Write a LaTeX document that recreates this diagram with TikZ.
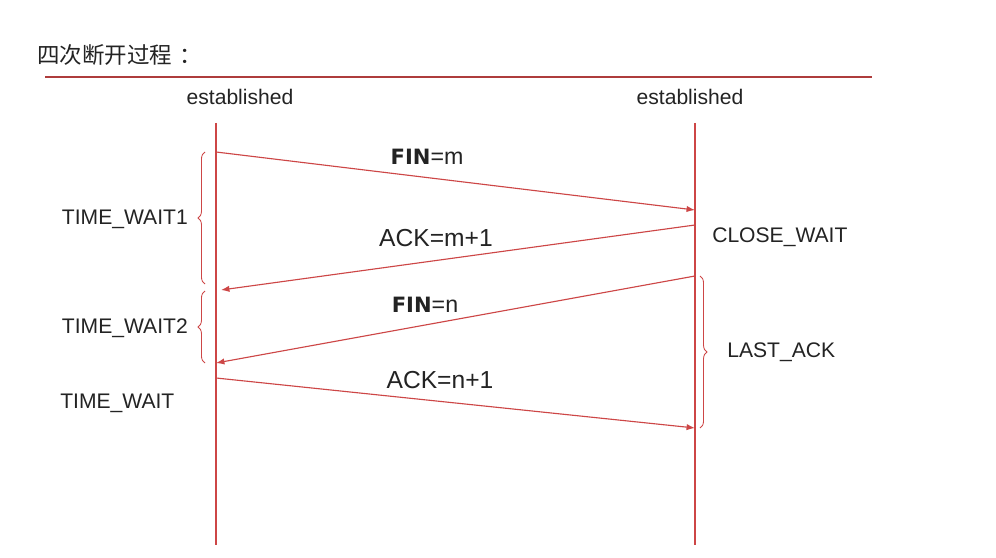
\documentclass[tikz,border=0pt]{standalone}
\usepackage{fontspec}
\setmainfont{Liberation Sans}
\newfontfamily\cjkfont{Noto Sans CJK SC}
\newfontfamily\finfont{DejaVu Sans}
\usetikzlibrary{arrows.meta,decorations.pathreplacing}
\definecolor{lnred}{RGB}{205,70,70}
\definecolor{txtgray}{RGB}{35,35,35}
\begin{document}
\begin{tikzpicture}[x=0.025cm,y=-0.025cm,
    lifeline/.style={draw=lnred,line width=0.8pt},
    msg/.style={draw=lnred,line width=0.8pt,-{Latex[length=6pt,width=4.5pt]}},
    stbrace/.style={draw=lnred,line width=0.6pt,decorate,decoration={brace,amplitude=5pt}},
    state/.style={font=\fontsize{15}{18}\selectfont,text=txtgray,inner sep=0pt},
    msglabel/.style={font=\fontsize{17.5}{20}\selectfont,text=txtgray,inner sep=0pt}]
    \useasboundingbox[fill=white] (0,0) rectangle (996,558);
    %% Title
    \node[anchor=west,inner sep=0pt,text=txtgray,font=\cjkfont\fontsize{16}{18}\selectfont] (title) at (37,55) {四次断开过程\kern0.3em：};
    \draw[draw=lnred!85!black,line width=1.1pt] (45,77) -- (872,77);
    %% Lifelines
    \node[state] (estL) at (240,97) {established};
    \node[state] (estR) at (690,97) {established};
    \draw[lifeline] (216,123) -- (216,545);
    \draw[lifeline] (695,123) -- (695,545);
    %% Messages
    \coordinate (a1) at (216,152); \coordinate (b1) at (695,210);
    \coordinate (b2) at (695,225); \coordinate (a2) at (221,290);
    \coordinate (b3) at (695,276); \coordinate (a3) at (216,363);
    \coordinate (a4) at (216,378); \coordinate (b4) at (695,428);
    \draw[msg] (a1) -- (b1);
    \draw[msg] (b2) -- (a2);
    \draw[msg] (b3) -- (a3);
    \draw[msg] (a4) -- (b4);
    \node[msglabel] (finm) at (427,157) {{\finfont\bfseries\fontsize{15}{18}\selectfont FIN}{\fontsize{16.5}{18}\selectfont=m}};
    \node[msglabel] (ackm) at (436,238) {ACK=m+1};
    \node[msglabel] (finn) at (425,305) {{\finfont\bfseries\fontsize{15}{18}\selectfont FIN}{\fontsize{16.5}{18}\selectfont=n}};
    \node[msglabel] (ackn) at (440,380) {ACK=n+1};
    %% States
    \draw[stbrace] (205,284) -- (205,152);
    \draw[stbrace] (205,363) -- (205,291);
    \draw[stbrace] (700,276) -- (700,428);
    \node[state,anchor=east] (tw1) at (188,219) {TIME\_WAIT1};
    \node[state,anchor=east] (tw2) at (188,328) {TIME\_WAIT2};
    \node[state,anchor=west] (tw) at (60,403) {TIME\_WAIT};
    \node[state,anchor=west] (cw) at (712,237) {CLOSE\_WAIT};
    \node[state,anchor=west] (la) at (727,352) {LAST\_ACK};
\end{tikzpicture}
\end{document}
